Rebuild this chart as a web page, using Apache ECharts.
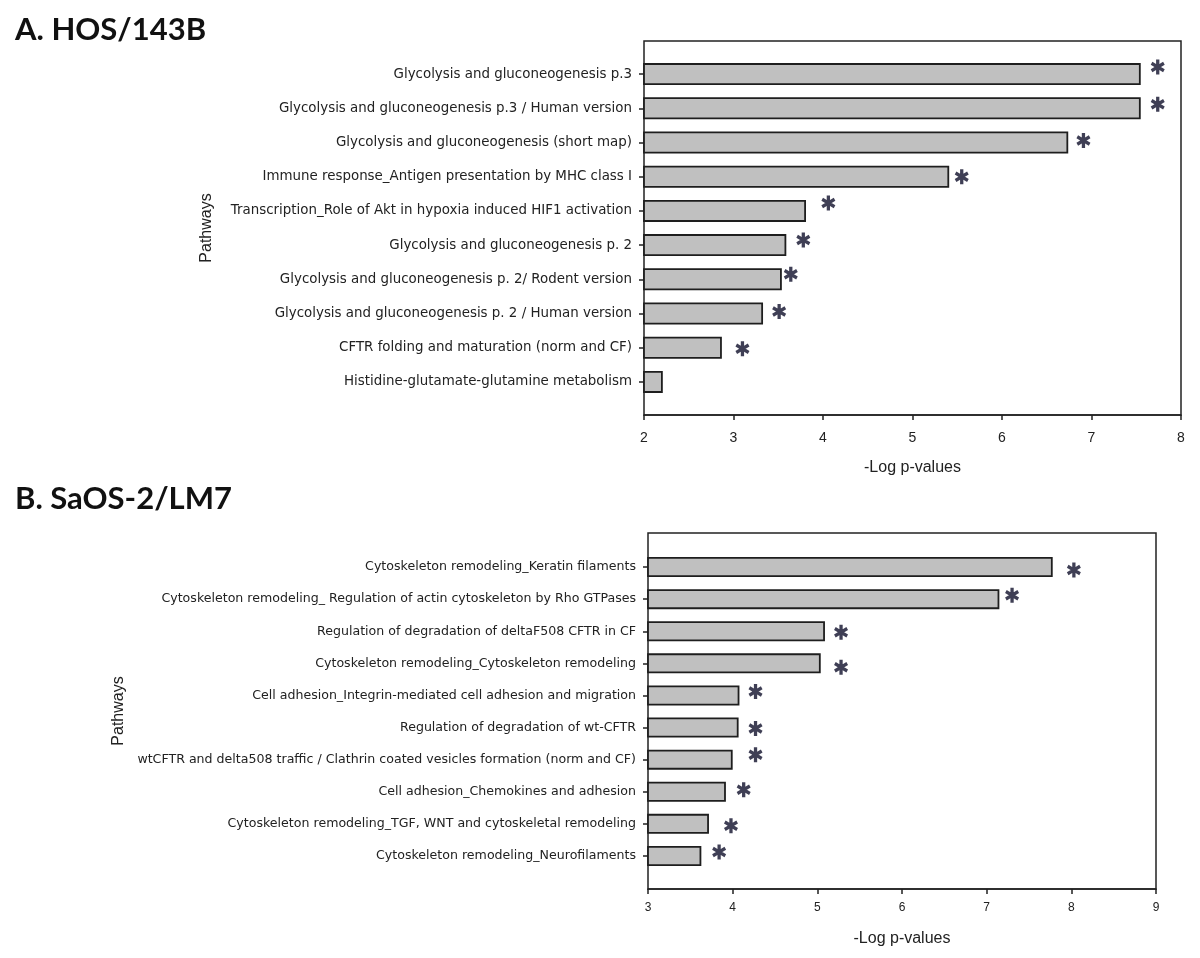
<!DOCTYPE html>
<html>
<head>
<meta charset="utf-8">
<script src="https://cdn.jsdelivr.net/npm/echarts@6/dist/echarts.min.js"></script>
<style>html,body{margin:0;padding:0;background:#fff}#c{width:1200px;height:958px}</style>
</head>
<body>
<div id="c"></div>
<script>
// ---- Panel A: HOS/143B ----
const catsA = [
  "Glycolysis and gluconeogenesis p.3",
  "Glycolysis and gluconeogenesis p.3 / Human version",
  "Glycolysis and gluconeogenesis (short map)",
  "Immune response_Antigen presentation by MHC class I",
  "Transcription_Role of Akt in hypoxia induced HIF1 activation",
  "Glycolysis and gluconeogenesis p. 2",
  "Glycolysis and gluconeogenesis p. 2/ Rodent version",
  "Glycolysis and gluconeogenesis p. 2 / Human version",
  "CFTR folding and maturation (norm and CF)",
  "Histidine-glutamate-glutamine metabolism"
];
const valuesA = [7.55, 7.55, 6.74, 5.41, 3.81, 3.59, 3.54, 3.33, 2.87, 2.21];
const starA   = [7.74, 7.74, 6.91, 5.55, 4.06, 3.78, 3.64, 3.51, 3.10, null];
const ticksA  = ["2","3","4","5","6","7","8"];

// ---- Panel B: SaOS-2/LM7 ----
const catsB = [
  "Cytoskeleton remodeling_Keratin filaments",
  "Cytoskeleton remodeling_ Regulation of actin cytoskeleton by Rho GTPases",
  "Regulation of degradation of deltaF508 CFTR in CF",
  "Cytoskeleton remodeling_Cytoskeleton remodeling",
  "Cell adhesion_Integrin-mediated cell adhesion and migration",
  "Regulation of degradation of wt-CFTR",
  "wtCFTR and delta508 traffic / Clathrin coated vesicles formation (norm and CF)",
  "Cell adhesion_Chemokines and adhesion",
  "Cytoskeleton remodeling_TGF, WNT and cytoskeletal remodeling",
  "Cytoskeleton remodeling_Neurofilaments"
];
const valuesB = [7.78, 7.15, 5.09, 5.04, 4.08, 4.07, 4.00, 3.92, 3.72, 3.63];
const starB   = [8.03, 7.30, 5.28, 5.28, 4.27, 4.27, 4.27, 4.13, 3.98, 3.84];
const ticksB  = ["3","4","5","6","7","8","9"];

// small vertical nudges of the asterisks (px, style only)
const liftA = [-7, -4, -2, 0, -8, -5, -5, -2, 1, 0];
const liftB = [3, -4, 1, 4, -4, 1, -5, -2, 2, -4];

const FONT = "'Liberation Sans', Arial, sans-serif";
const LABELFONT = "'DejaVu Sans', Verdana, sans-serif";
const STAR = 'path://M-1.15 -5L1.15 -5L1.15 5L-1.15 5Z M3.755 3.496L-4.905 -1.504L-3.755 -3.496L4.905 1.504Z M-4.905 1.504L3.755 -3.496L4.905 -1.504L-3.755 3.496Z';

function starData(stars, lifts) {
  const out = [];
  stars.forEach((v, i) => {
    if (v != null) out.push({ value: [v, i], symbolOffset: [0, lifts[i]] });
  });
  return out;
}

const chart = echarts.init(document.getElementById('c'), null, { renderer: 'canvas' });

const frameAxisX = (min, max, fs, labelMargin, nameGap, ticks) => ({
  type: 'value', min: min, max: max, interval: 1,
  axisLine: { show: true, lineStyle: { color: '#222', width: 1.5 } },
  axisTick: { show: true, inside: false, length: 5, lineStyle: { color: '#222', width: 1.5 } },
  axisLabel: { show: true, fontFamily: FONT, fontSize: fs, color: '#222', margin: labelMargin,
               formatter: (v) => ticks[Math.round(v - min)] },
  splitLine: { show: false },
  name: '-Log p-values', nameLocation: 'middle', nameGap: nameGap,
  nameTextStyle: { fontFamily: FONT, fontSize: 16, color: '#222' }
});

const hiddenX = (min, max) => ({
  type: 'value', min: min, max: max, show: false, splitLine: { show: false }
});

const catAxis = (cats, fs, grid) => ({
  type: 'category', gridIndex: grid, data: cats, inverse: true,
  axisLine: { show: false },
  axisTick: { show: true, alignWithLabel: true, length: 5, lineStyle: { color: '#222', width: 1.5 } },
  axisLabel: { fontFamily: LABELFONT, fontSize: fs, color: '#222', margin: 12 }
});

const frameAxisY = (grid, gap) => ({
  type: 'value', gridIndex: grid, min: 0, max: 1,
  axisLine: { show: false }, axisTick: { show: false }, axisLabel: { show: false },
  splitLine: { show: false },
  name: 'Pathways', nameLocation: 'middle', nameGap: gap, nameRotate: 90,
  nameTextStyle: { fontFamily: FONT, fontSize: 16, color: '#222' }
});

const barStyle = { color: '#c0c0c0', borderColor: '#1e1e1e', borderWidth: 1.8 };
const starStyle = { color: '#0f0f2a' };

chart.setOption({
  animation: false,
  backgroundColor: '#ffffff',
  title: [
    { text: 'A. HOS/143B', left: 10, top: 9,
      textStyle: { fontFamily: "Lato, 'Open Sans', sans-serif", fontWeight: 'bold', fontSize: 31, color: '#111' } },
    { text: 'B. SaOS-2/LM7', left: 10, top: 478,
      textStyle: { fontFamily: "Lato, 'Open Sans', sans-serif", fontWeight: 'bold', fontSize: 31, color: '#111' } }
  ],
  grid: [
    { left: 644, width: 537, top: 57, height: 342, show: false },
    { left: 644, width: 537, top: 41, height: 374, show: true, borderColor: '#222', borderWidth: 1.5, backgroundColor: 'transparent' },
    { left: 648, width: 508, top: 551, height: 321, show: false },
    { left: 648, width: 508, top: 533, height: 356, show: true, borderColor: '#222', borderWidth: 1.5, backgroundColor: 'transparent' }
  ],
  xAxis: [
    Object.assign(hiddenX(2, 8), { gridIndex: 0 }),
    Object.assign(frameAxisX(2, 8, 14, 16, 45, ticksA), { gridIndex: 1 }),
    Object.assign(hiddenX(3, 9), { gridIndex: 2 }),
    Object.assign(frameAxisX(3, 9, 12, 13, 42, ticksB), { gridIndex: 3 })
  ],
  yAxis: [
    catAxis(catsA, 13.4, 0),
    frameAxisY(1, 429),
    catAxis(catsB, 12.6, 2),
    frameAxisY(3, 521)
  ],
  series: [
    { type: 'bar', xAxisIndex: 0, yAxisIndex: 0, data: valuesA, barWidth: 22, itemStyle: barStyle, z: 3 },
    { type: 'scatter', xAxisIndex: 0, yAxisIndex: 0, data: starData(starA, liftA),
      symbol: STAR, symbolSize: [14, 15], itemStyle: starStyle, z: 4 },
    { type: 'bar', xAxisIndex: 2, yAxisIndex: 2, data: valuesB, barWidth: 20, itemStyle: barStyle, z: 3 },
    { type: 'scatter', xAxisIndex: 2, yAxisIndex: 2, data: starData(starB, liftB),
      symbol: STAR, symbolSize: [14, 15], itemStyle: starStyle, z: 4 }
  ]
});
</script>
</body>
</html>
